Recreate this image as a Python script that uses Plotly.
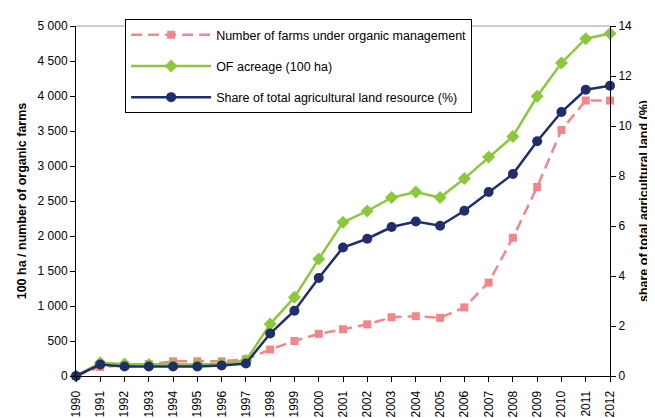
import plotly.graph_objects as go

years = list(range(1990, 2013))
farms = [0, 130, 150, 170, 210, 210, 210, 240, 378, 500, 602, 668, 738, 840, 854, 831, 980, 1335, 1975, 2700, 3515, 3935, 3935]
acreage = [0, 190, 170, 165, 165, 165, 175, 220, 742, 1125, 1670, 2195, 2357, 2549, 2629, 2549, 2820, 3128, 3422, 3996, 4472, 4818, 4893]
share = [0, 0.46, 0.38, 0.38, 0.38, 0.38, 0.42, 0.50, 1.70, 2.61, 3.92, 5.14, 5.49, 5.96, 6.18, 6.01, 6.61, 7.36, 8.08, 9.39, 10.56, 11.45, 11.61]

left_ticks = [0, 500, 1000, 1500, 2000, 2500, 3000, 3500, 4000, 4500, 5000]
left_labels = ["0", "500", "1 000", "1 500", "2 000", "2 500", "3 000", "3 500", "4 000", "4 500", "5 000"]
right_ticks = [0, 2, 4, 6, 8, 10, 12, 14]

PINK = "#F4868A"
GREEN = "#8CC83C"
NAVY = "#202E6C"
FONT = "Liberation Sans, Arial, sans-serif"
FS = 12
FT = 12.5

fig = go.Figure()
fig.add_trace(go.Scatter(
    x=years, y=farms, name="Number of farms under organic management",
    mode="lines+markers", legendgroup="a",
    line=dict(color=PINK, width=2.5, dash="11px,6px"),
    marker=dict(symbol="square", size=8, color=PINK),
    cliponaxis=False,
))
fig.add_trace(go.Scatter(
    x=years, y=acreage, name="OF acreage (100 ha)",
    mode="lines+markers", legendgroup="b",
    line=dict(color=GREEN, width=2.5),
    marker=dict(symbol="diamond", size=10, color=GREEN),
    cliponaxis=False,
))
fig.add_trace(go.Scatter(
    x=years, y=share, name="Share of total agricultural land resource (%)",
    mode="lines+markers", legendgroup="c", yaxis="y2",
    line=dict(color=NAVY, width=2.5),
    marker=dict(symbol="circle", size=10, color=NAVY),
    cliponaxis=False,
))

common = dict(showgrid=False, zeroline=False, showline=True, linecolor="black", linewidth=1,
              tickcolor="black", automargin=False, tickfont=dict(family=FONT, size=FS))

fig.update_layout(
    width=647, height=410,
    margin=dict(l=68, r=45, t=11, b=42),
    paper_bgcolor="white", plot_bgcolor="white",
    font=dict(family=FONT, size=FS, color="black"),
    showlegend=True,
    legend=dict(
        x=0.092, y=1.02, xanchor="left", yanchor="top",
        bgcolor="white", bordercolor="black", borderwidth=1,
        font=dict(family=FONT, size=FT, color="black"),
        itemwidth=80, tracegroupgap=12, traceorder="grouped",
    ),
    xaxis=dict(
        range=[1990, 2012], tickmode="array", tickvals=years,
        ticktext=[str(y) for y in years], tickangle=-90,
        ticks="outside", ticklen=5, ticklabelstandoff=4, **common,
    ),
    yaxis=dict(
        range=[0, 5000], tickmode="array", tickvals=left_ticks, ticktext=left_labels,
        ticks="outside", ticklen=5,
        title=dict(text="<b>100 ha / number of organic farms</b>", font=dict(family=FONT, size=FT), standoff=8),
        **common,
    ),
    yaxis2=dict(
        range=[0, 14], tickmode="array", tickvals=right_ticks, overlaying="y", side="right",
        ticks="outside", ticklen=5,
        title=dict(text="<b>share of total agricultural land (%)</b>", font=dict(family=FONT, size=FT), standoff=8),
        **common,
    ),
    yaxis3=dict(
        range=[0, 5000], tickmode="array", tickvals=left_ticks, overlaying="y", side="left",
        ticks="inside", ticklen=3, showticklabels=False, **common,
    ),
    yaxis4=dict(
        range=[0, 14], tickmode="array", tickvals=right_ticks, overlaying="y", side="right",
        ticks="inside", ticklen=3, showticklabels=False, **common,
    ),
    shapes=[dict(type="line", xref="paper", yref="paper", x0=0, x1=1, y0=1, y1=1,
                 line=dict(color="#999999", width=1), layer="below")],
)

fig.write_html("out.html")
